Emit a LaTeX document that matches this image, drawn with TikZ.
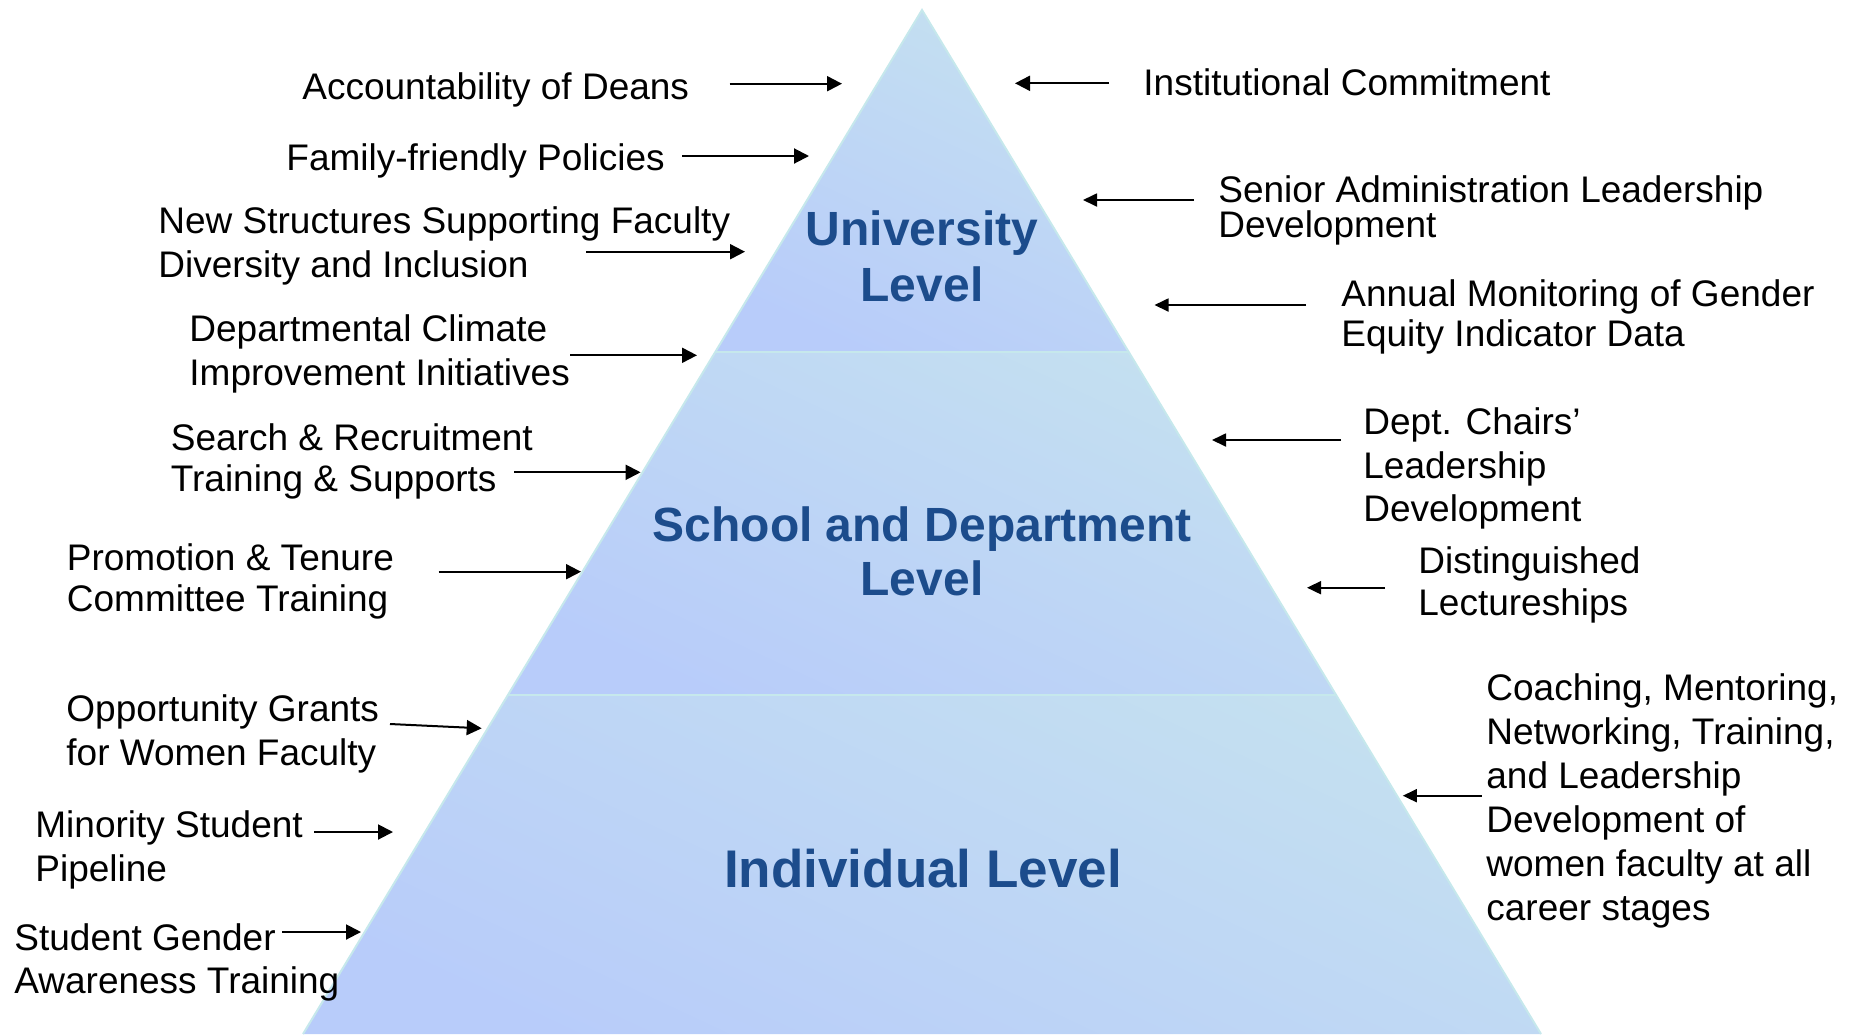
\documentclass[tikz,border=0pt]{standalone}
\usepackage{fontspec}
\setmainfont{Liberation Sans}
\usetikzlibrary{arrows.meta}
\definecolor{lvl}{RGB}{28,76,140}
\definecolor{topc}{RGB}{196,224,240}
\definecolor{botc}{RGB}{184,204,250}
\definecolor{edgec}{RGB}{198,232,236}
\begin{document}
\begin{tikzpicture}[x=0.5pt,y=-0.5pt,
  lab/.style={anchor=base west, inner sep=0pt, align=left, font=\fontsize{18.5}{21.6}\selectfont},
  lvltext/.style={anchor=base, inner sep=0pt, align=center, text=lvl, font=\bfseries\fontsize{24}{28.3}\selectfont},
  arrL/.style={-{Triangle[length=7.5pt,width=7.5pt]}, line width=1pt},
  arrR/.style={-{Triangle[length=7pt,width=6.5pt]}, line width=0.9pt},
  band/.style={top color=topc, bottom color=botc, shading angle=-25},
  edge/.style={draw=edgec, line width=1pt}]
\useasboundingbox (0,0) rectangle (1856,1034);
% pyramid bands
\coordinate (apex) at (922,10);
\coordinate (l1) at (715.3,352);
\coordinate (r1) at (1128.7,352);
\coordinate (l2) at (507.9,695);
\coordinate (r2) at (1336.1,695);
\coordinate (l3) at (303,1034);
\coordinate (r3) at (1541,1034);
\path[band] (apex) -- (r1) -- (l1) -- cycle;
\path[band] (l1) -- (r1) -- (r2) -- (l2) -- cycle;
\path[band] (l2) -- (r2) -- (r3) -- (l3) -- cycle;
\draw[edge] (l3) -- (apex) -- (r3);
\draw[edge] (l1) -- (r1);
\draw[edge] (l2) -- (r2);
% level titles (anchor = baseline of last line)
\node[lvltext] (uni) at (922,301.7) {University\\Level};
\node[lvltext, font=\bfseries\fontsize{24}{27}\selectfont] (sch) at (922,595) {School and Department\\Level};
\node[lvltext, font=\bfseries\fontsize{26.5}{30}\selectfont] (ind) at (923,887) {Individual Level};
% left labels (anchor = baseline of last line)
\node[lab] (L1) at (302,99.3) {Accountability of Deans};
\node[lab] (L2) at (286,170) {Family-friendly Policies};
\node[lab, font=\fontsize{18.5}{22}\selectfont] (L3) at (158,277.3) {New Structures Supporting Faculty\\Diversity and Inclusion};
\node[lab] (L4) at (189,385) {Departmental Climate\\Improvement Initiatives};
\node[lab, font=\fontsize{18.5}{20.5}\selectfont] (L5) at (170.5,491.7) {Search \& Recruitment\\Training \& Supports};
\node[lab, font=\fontsize{18.5}{20.5}\selectfont] (L6) at (66.5,611.7) {Promotion \& Tenure\\Committee Training};
\node[lab] (L7) at (66,765) {Opportunity Grants\\for Women Faculty};
\node[lab] (L8) at (35,881) {Minority Student\\Pipeline};
\node[lab] (L9) at (14,993.3) {Student Gender\\Awareness Training};
% right labels
\node[lab] (R1) at (1143,95) {Institutional Commitment};
\node[lab, font=\fontsize{18.5}{17.3}\selectfont] (R2) at (1218,237) {Senior Administration Leadership\\Development};
\node[lab, font=\fontsize{18.5}{20}\selectfont] (R3) at (1341,346.7) {Annual Monitoring of Gender\\Equity Indicator Data};
\node[lab, font=\fontsize{18.5}{21.7}\selectfont] (R4) at (1363,521.7) {Dept. Chairs’\\Leadership\\Development};
\node[lab, font=\fontsize{18.5}{20.8}\selectfont] (R5) at (1418,615) {Distinguished\\Lectureships};
\node[lab, font=\fontsize{18.5}{22}\selectfont] (R6) at (1486,920) {Coaching, Mentoring,\\Networking, Training,\\and Leadership\\Development of\\women faculty at all\\career stages};
% arrow ends
\coordinate (a1s) at (729.6,83.7);  \coordinate (a1e) at (842,83.7);
\coordinate (a2s) at (682,156);     \coordinate (a2e) at (809,156);
\coordinate (a3s) at (586,251.7);   \coordinate (a3e) at (745,251.7);
\coordinate (a4s) at (570,355.3);   \coordinate (a4e) at (697,355.3);
\coordinate (a5s) at (514,472.3);   \coordinate (a5e) at (640.6,472.3);
\coordinate (a6s) at (438.6,571.7); \coordinate (a6e) at (581,571.7);
\coordinate (a7s) at (390,724);     \coordinate (a7e) at (481.7,728.3);
\coordinate (a8s) at (314,832);     \coordinate (a8e) at (393,832);
\coordinate (a9s) at (282,932);     \coordinate (a9e) at (361,932);
\coordinate (b1s) at (1109,83.3);   \coordinate (b1e) at (1015,83.3);
\coordinate (b2s) at (1194,200);    \coordinate (b2e) at (1083,200);
\coordinate (b3s) at (1306,305);    \coordinate (b3e) at (1154.5,305);
\coordinate (b4s) at (1341,440);    \coordinate (b4e) at (1212,440);
\coordinate (b5s) at (1385,587.7);  \coordinate (b5e) at (1307,587.7);
\coordinate (b6s) at (1481.6,795.7);\coordinate (b6e) at (1402.8,795.7);
\foreach \i in {1,...,9} {\draw[arrL] (a\i s) -- (a\i e);}
\draw[arrL] (b1s) -- (b1e);
\foreach \i in {2,...,6} {\draw[arrR] (b\i s) -- (b\i e);}
\end{tikzpicture}
\end{document}
